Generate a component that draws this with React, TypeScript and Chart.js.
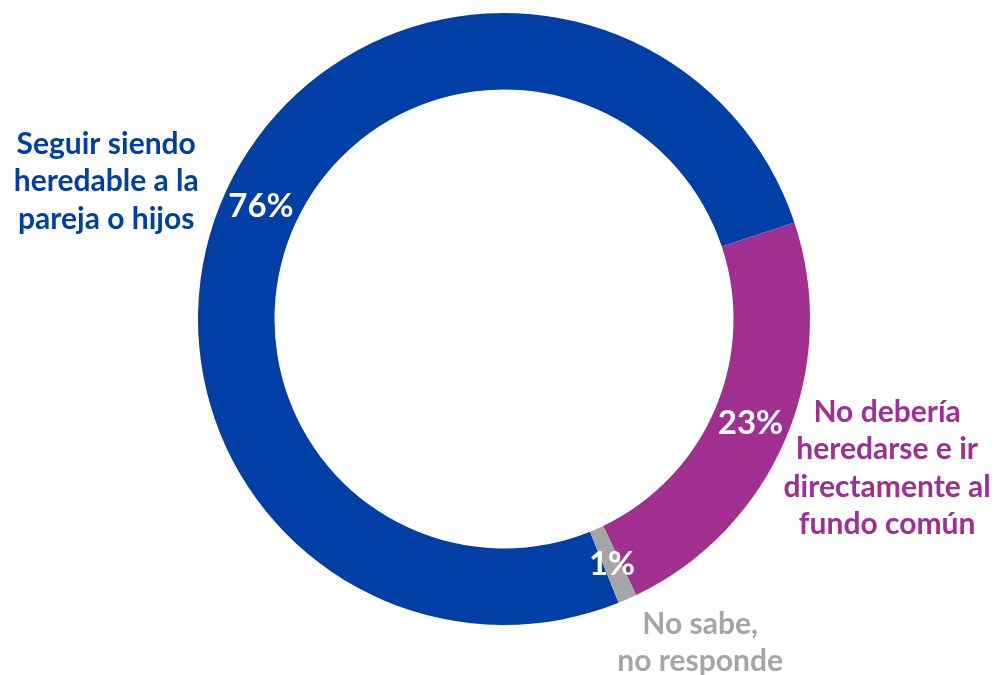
import React, { useEffect, useRef } from "react";
import { Chart, registerables } from "chart.js";

Chart.register(...registerables);

const categories = [
  "Seguir siendo heredable a la pareja o hijos",
  "No debería heredarse e ir directamente al fundo común",
  "No sabe, no responde",
];
const values = [76, 23, 1];
const percentLabels = ["76%", "23%", "1%"];
const outerLabelLines = [
  ["Seguir siendo", "heredable a la", "pareja o hijos"],
  ["No debería", "heredarse e ir", "directamente al", "fundo común"],
  ["No sabe,", "no responde"],
];
const colors = ["#003FA5", "#A02F8F", "#A5A5A5"];
// label anchor offsets relative to doughnut center, in units of outer radius
const outerAnchors = [
  [-1.3, -0.572],
  [1.252, 0.304],
  [0.641, 0.997],
];

const FONT = "Lato, 'Open Sans', sans-serif";

const labelPlugin = {
  id: "customLabels",
  afterDraw(chart: any) {
    const ctx = chart.ctx;
    const meta = chart.getDatasetMeta(0);
    const first = meta.data[0];
    const cx = first.x;
    const cy = first.y;
    const r = first.outerRadius;
    ctx.save();
    ctx.textAlign = "center";
    ctx.textBaseline = "middle";
    meta.data.forEach((arc: any, i: number) => {
      const p = arc.tooltipPosition();
      ctx.fillStyle = "#ffffff";
      ctx.font = `bold 33px ${FONT}`;
      ctx.fillText(percentLabels[i], p.x, p.y);
    });
    outerLabelLines.forEach((lines, i) => {
      const ax = cx + outerAnchors[i][0] * r;
      const ay = cy + outerAnchors[i][1] * r;
      ctx.fillStyle = colors[i];
      ctx.font = `bold 30px ${FONT}`;
      lines.forEach((line, j) => {
        ctx.fillText(line, ax, ay + j * 37.5);
      });
    });
    ctx.restore();
  },
};

export default function App() {
  const ref = useRef<HTMLCanvasElement | null>(null);
  useEffect(() => {
    if (!ref.current) return;
    const chart = new Chart(ref.current, {
      type: "doughnut",
      data: {
        labels: categories,
        datasets: [
          {
            data: values,
            backgroundColor: colors,
            borderWidth: 0,
          },
        ],
      },
      options: {
        animation: false,
        responsive: false,
        rotation: 158,
        cutout: "75%",
        layout: { padding: { top: 13, bottom: 50, left: 198, right: 189 } },
        plugins: {
          legend: { display: false },
          tooltip: { enabled: false },
        },
      },
      plugins: [labelPlugin],
    });
    return () => chart.destroy();
  }, []);
  return (
    <div style={{ position: "fixed", left: 0, top: 0, width: 999, height: 675, background: "#fff" }}>
      <canvas ref={ref} width={999} height={675} style={{ width: 999, height: 675 }} />
    </div>
  );
}
